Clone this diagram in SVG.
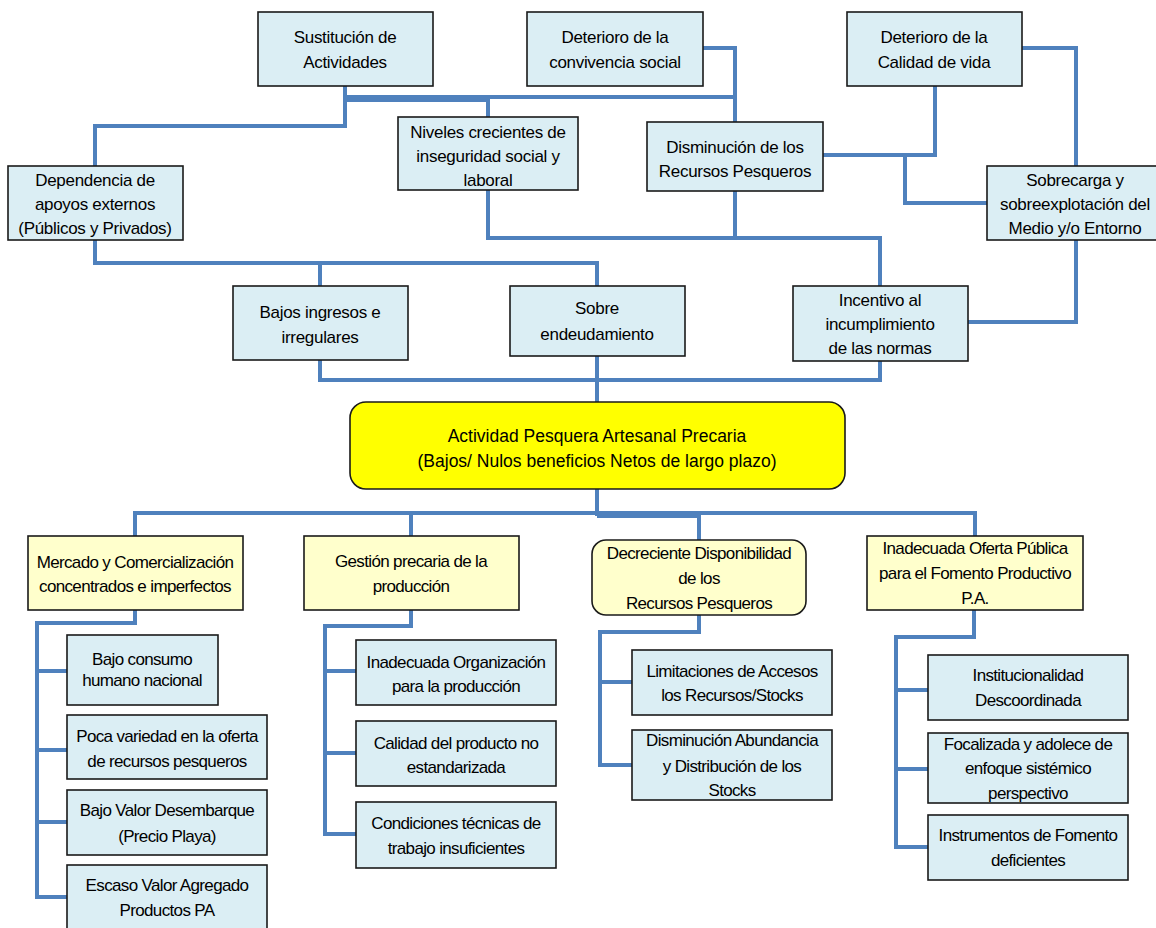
<svg xmlns="http://www.w3.org/2000/svg" width="1156" height="928" viewBox="0 0 1156 928">
<style>
.n{fill:#DBEEF4;stroke:#1a1a1a;stroke-width:1.6}
.h{fill:#FFFFCC;stroke:#1a1a1a;stroke-width:1.6}
.c{fill:#FFFF00;stroke:#1a1a1a;stroke-width:1.6}
.t{font-family:"Liberation Sans",Arial,sans-serif;font-size:17px;fill:#000;text-anchor:middle;letter-spacing:-0.3px}
.tb{font-family:"Liberation Sans",Arial,sans-serif;font-size:17px;fill:#000;text-anchor:middle;letter-spacing:-0.65px}
.tc{font-family:"Liberation Sans",Arial,sans-serif;font-size:17.5px;fill:#000;text-anchor:middle}
.e{fill:none;stroke:#4F81BD;stroke-width:4;stroke-linejoin:miter}
</style>
<rect width="1156" height="928" fill="#fff"/>
<g id="connectors">
<path class="e" d="M345,86 V97 H735"/>
<path class="e" d="M345,100 H488 V117"/>
<path class="e" d="M345,86 V126 H95 V166"/>
<path class="e" d="M703,48 H735 V122"/>
<path class="e" d="M935,86 V155 H823"/>
<path class="e" d="M905,155 V203 H987"/>
<path class="e" d="M1022,48 H1076 V166"/>
<path class="e" d="M1076,240 V322 H968"/>
<path class="e" d="M488,190 V238 H880 V286"/>
<path class="e" d="M735,191 V238"/>
<path class="e" d="M95,240 V263 H597 V286"/>
<path class="e" d="M320,263 V286"/>
<path class="e" d="M320,360 V380 H880 V361"/>
<path class="e" d="M597,356 V402"/>
<path class="e" d="M597,489 V516"/>
<path class="e" d="M135,536 V513 H975 V536"/>
<path class="e" d="M411,513 V536"/>
<path class="e" d="M597,516 H699 V540"/>
<path class="e" d="M135,610 V623 H37 V897 H67"/>
<path class="e" d="M37,671 H67 M37,750 H67 M37,822 H67"/>
<path class="e" d="M411,610 V626 H325 V834 H356"/>
<path class="e" d="M325,671 H356 M325,753 H356"/>
<path class="e" d="M699,615 V632 H600 V765 H632"/>
<path class="e" d="M600,682 H632"/>
<path class="e" d="M974,610 V637 H896 V847 H928"/>
<path class="e" d="M896,690 H928 M896,769 H928"/>
</g>
<g id="n-sustitucion"><rect class="n" x="258" y="12" width="175" height="74"/><text class="t" x="345" y="43">Sustitución de</text><text class="t" x="345" y="68">Actividades</text></g>
<g id="n-convivencia"><rect class="n" x="527" y="12" width="176" height="74"/><text class="t" x="615" y="43">Deterioro de la</text><text class="t" x="615" y="68">convivencia social</text></g>
<g id="n-calidad"><rect class="n" x="847" y="12" width="175" height="74"/><text class="t" x="934" y="43">Deterioro de la</text><text class="t" x="934" y="68">Calidad de vida</text></g>
<g id="n-niveles"><rect class="n" x="398" y="117" width="180" height="73"/><text class="t" x="488" y="138">Niveles crecientes de</text><text class="t" x="488" y="162">inseguridad social y</text><text class="t" x="488" y="186">laboral</text></g>
<g id="n-disminucion"><rect class="n" x="647" y="122" width="176" height="69"/><text class="t" x="735" y="153">Disminución de los</text><text class="t" x="735" y="177">Recursos Pesqueros</text></g>
<g id="n-dependencia"><rect class="n" x="8" y="166" width="175" height="74"/><text class="t" x="95" y="186">Dependencia de</text><text class="t" x="95" y="210">apoyos externos</text><text class="t" x="95" y="234">(Públicos y Privados)</text></g>
<g id="n-sobrecarga"><rect class="n" x="987" y="166" width="175" height="74"/><text class="t" x="1075" y="186">Sobrecarga y</text><text class="t" x="1075" y="210">sobreexplotación del</text><text class="t" x="1075" y="234">Medio y/o Entorno</text></g>
<g id="n-bajos"><rect class="n" x="233" y="286" width="175" height="74"/><text class="t" x="320" y="318">Bajos ingresos e</text><text class="t" x="320" y="343">irregulares</text></g>
<g id="n-sobre"><rect class="n" x="510" y="286" width="175" height="70"/><text class="t" x="597" y="314">Sobre</text><text class="t" x="597" y="340">endeudamiento</text></g>
<g id="n-incentivo"><rect class="n" x="793" y="286" width="175" height="75"/><text class="t" x="880" y="306">Incentivo al</text><text class="t" x="880" y="330">incumplimiento</text><text class="t" x="880" y="354">de las normas</text></g>
<g id="n-central"><rect class="c" x="350" y="402" width="495" height="87" rx="16"/><text class="tc" x="597" y="442">Actividad Pesquera Artesanal Precaria</text><text class="tc" x="597" y="467">(Bajos/ Nulos beneficios Netos de largo plazo)</text></g>
<g id="h-mercado"><rect class="h" x="28" y="536" width="215" height="74"/><text class="tb" x="135" y="568">Mercado y Comercialización</text><text class="tb" x="135" y="592">concentrados e imperfectos</text></g>
<g id="h-gestion"><rect class="h" x="304" y="536" width="215" height="74"/><text class="tb" x="411" y="567">Gestión precaria de la</text><text class="tb" x="411" y="592">producción</text></g>
<g id="h-decreciente"><rect class="h" x="592" y="540" width="214" height="75" rx="14"/><text class="tb" x="699" y="559">Decreciente Disponibilidad</text><text class="tb" x="699" y="584">de los</text><text class="tb" x="699" y="609">Recursos Pesqueros</text></g>
<g id="h-oferta"><rect class="h" x="867" y="536" width="216" height="74"/><text class="tb" x="975" y="554">Inadecuada Oferta Pública</text><text class="tb" x="975" y="579">para el Fomento Productivo</text><text class="tb" x="975" y="604">P.A.</text></g>
<g id="s-bajo-consumo"><rect class="n" x="67" y="635" width="151" height="70"/><text class="tb" x="142" y="665">Bajo consumo</text><text class="tb" x="142" y="686">humano nacional</text></g>
<g id="s-poca-variedad"><rect class="n" x="67" y="715" width="200" height="64"/><text class="tb" x="167" y="742">Poca variedad en la oferta</text><text class="tb" x="167" y="767">de recursos pesqueros</text></g>
<g id="s-bajo-valor"><rect class="n" x="67" y="790" width="200" height="65"/><text class="tb" x="167" y="816">Bajo Valor Desembarque</text><text class="tb" x="167" y="842">(Precio Playa)</text></g>
<g id="s-escaso"><rect class="n" x="67" y="865" width="200" height="75"/><text class="tb" x="167" y="891">Escaso Valor Agregado</text><text class="tb" x="167" y="916">Productos PA</text></g>
<g id="s-organizacion"><rect class="n" x="356" y="640" width="200" height="65"/><text class="tb" x="456" y="668">Inadecuada Organización</text><text class="tb" x="456" y="692">para la producción</text></g>
<g id="s-calidad"><rect class="n" x="356" y="721" width="200" height="65"/><text class="tb" x="456" y="749">Calidad del producto no</text><text class="tb" x="456" y="773">estandarizada</text></g>
<g id="s-condiciones"><rect class="n" x="356" y="802" width="200" height="66"/><text class="tb" x="456" y="829">Condiciones técnicas de</text><text class="tb" x="456" y="854">trabajo insuficientes</text></g>
<g id="s-limitaciones"><rect class="n" x="632" y="650" width="200" height="65"/><text class="tb" x="732" y="677">Limitaciones de Accesos</text><text class="tb" x="732" y="701">los Recursos/Stocks</text></g>
<g id="s-abundancia"><rect class="n" x="632" y="730" width="200" height="70"/><text class="tb" x="732" y="746">Disminución Abundancia</text><text class="tb" x="732" y="772">y Distribución de los</text><text class="tb" x="732" y="796">Stocks</text></g>
<g id="s-institucionalidad"><rect class="n" x="928" y="655" width="200" height="65"/><text class="tb" x="1028" y="681">Institucionalidad</text><text class="tb" x="1028" y="706">Descoordinada</text></g>
<g id="s-focalizada"><rect class="n" x="928" y="733" width="200" height="70"/><text class="tb" x="1028" y="750">Focalizada y adolece de</text><text class="tb" x="1028" y="774">enfoque sistémico</text><text class="tb" x="1028" y="799">perspectivo</text></g>
<g id="s-instrumentos"><rect class="n" x="928" y="815" width="200" height="65"/><text class="tb" x="1028" y="841">Instrumentos de Fomento</text><text class="tb" x="1028" y="866">deficientes</text></g>
</svg>
